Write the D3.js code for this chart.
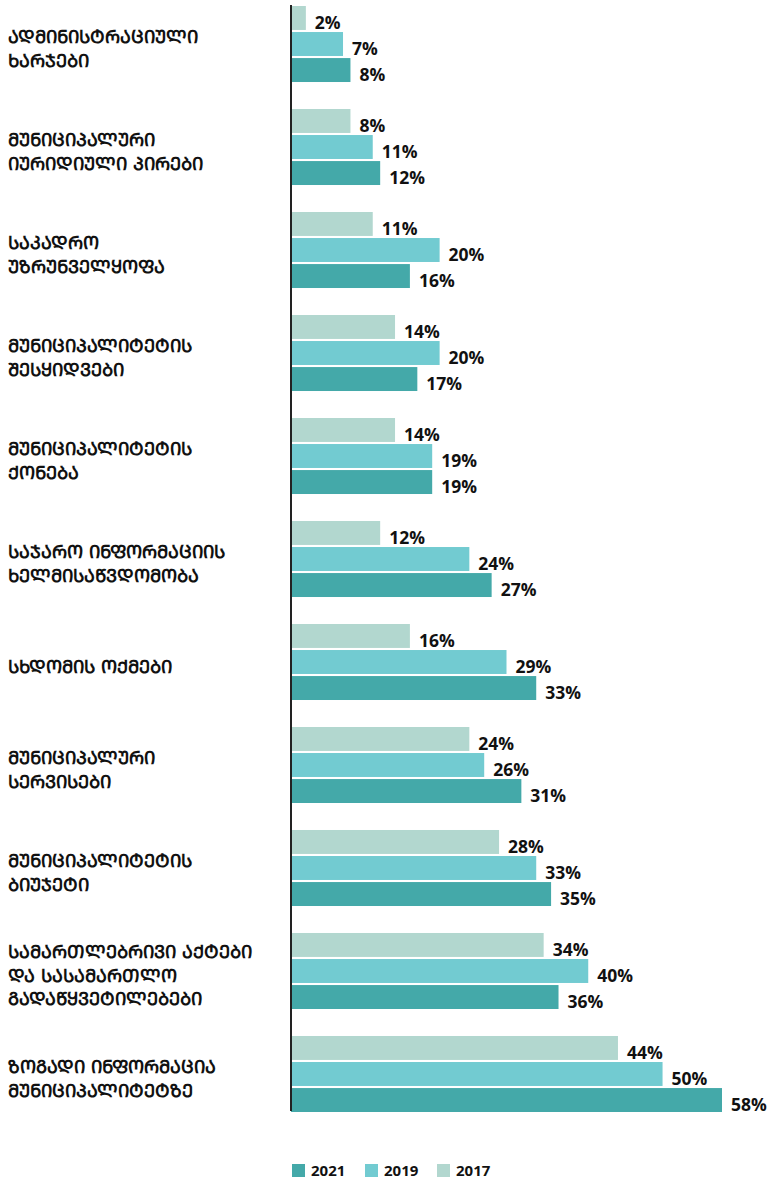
<!DOCTYPE html>
<html>
<head>
<meta charset="utf-8">
<script src="https://cdn.jsdelivr.net/npm/d3@7"></script>
<style>
  body { margin: 0; background: #fff; }
  .cat { font-family: "DejaVu Sans", sans-serif; font-weight: bold; font-size: 18px; fill: #111; }
  .val { font-family: "Open Sans", sans-serif; font-weight: 700; font-size: 17.5px; fill: #111; }
  .leg { font-family: "Open Sans", sans-serif; font-weight: 700; font-size: 15px; fill: #111; }
</style>
</head>
<body>
<div id="chart"></div>
<script>
const width = 770, height = 1179;

// category labels, one array of lines per group
const categories = [
  ["ადმინისტრაციული", "ხარჯები"],
  ["მუნიციპალური", "იურიდიული პირები"],
  ["საკადრო", "უზრუნველყოფა"],
  ["მუნიციპალიტეტის", "შესყიდვები"],
  ["მუნიციპალიტეტის", "ქონება"],
  ["საჯარო ინფორმაციის", "ხელმისაწვდომობა"],
  ["სხდომის ოქმები"],
  ["მუნიციპალური", "სერვისები"],
  ["მუნიციპალიტეტის", "ბიუჯეტი"],
  ["სამართლებრივი აქტები", "და სასამართლო", "გადაწყვეტილებები"],
  ["ზოგადი ინფორმაცია", "მუნიციპალიტეტზე"]
];
const years = ["2017", "2019", "2021"];
const v2017 = [2, 8, 11, 14, 14, 12, 16, 24, 28, 34, 44];
const v2019 = [7, 11, 20, 20, 19, 24, 29, 26, 33, 40, 50];
const v2021 = [8, 12, 16, 17, 19, 27, 33, 31, 35, 36, 58];
const legendYears = ["2021", "2019", "2017"];

const colors = { "2021": "#44a9a9", "2019": "#72cbd1", "2017": "#b2d7cf" };
const series = { "2017": v2017, "2019": v2019, "2021": v2021 };

const data = categories.map(function(c, i) {
  return { key: i, lines: c, values: years.map(function(y) { return { year: y, value: series[y][i] }; }) };
});

const svg = d3.select("#chart").append("svg")
  .attr("width", width)
  .attr("height", height);

const x0 = 291;
let x = d3.scaleLinear().domain([0, 58]).range([x0, 722]);

let y = d3.scaleBand()
  .domain(data.map(function(d) { return d.key; }))
  .range([6, 1112])
  .paddingInner(0.262)
  .paddingOuter(0);

let yInner = d3.scaleBand()
  .domain(years)
  .range([0, y.bandwidth()])
  .paddingInner(0.08)
  .paddingOuter(0);

let groups = svg.selectAll("g.grp").data(data).enter()
  .append("g")
  .attr("class", "grp")
  .attr("transform", function(d) { return `translate(0, ${y(d.key)})`; });

groups.selectAll("rect").data(function(d) { return d.values; }).enter()
  .append("rect")
  .attr("x", x(0))
  .attr("y", function(d) { return yInner(d.year); })
  .attr("width", function(d) { return x(d.value) - x(0); })
  .attr("height", yInner.bandwidth())
  .attr("fill", function(d) { return colors[d.year]; });

groups.selectAll("text.val").data(function(d) { return d.values; }).enter()
  .append("text")
  .attr("class", "val")
  .attr("x", function(d) { return x(d.value) + 9; })
  .attr("y", function(d) { return yInner(d.year) + yInner.bandwidth() / 2 + 11; })
  .text(function(d) { return d.value + "%"; });

// category labels
const lineH = 23.5;
groups.append("text")
  .attr("class", "cat")
  .attr("x", 8)
  .attr("y", function(d) { return y.bandwidth() / 2 - (d.lines.length - 1) * lineH / 2 + 11; })
  .selectAll("tspan").data(function(d) { return d.lines; }).enter()
  .append("tspan")
  .attr("x", 8)
  .attr("dy", function(d, i) { return i === 0 ? 0 : lineH; })
  .text(function(d) { return d.toUpperCase(); });

// vertical axis line
svg.append("g")
  .attr("transform", `translate(${x0}, 0)`)
  .call(d3.axisLeft(y).tickValues([]).tickSizeOuter(0))
  .call(function(g) { g.select(".domain").attr("stroke", "#222").attr("stroke-width", 2); })
  .call(function(g) { g.select(".domain").attr("d", "M0,5V1111"); });

// legend
const legX = [292, 365, 437];
let legend = svg.selectAll("g.leg").data(legendYears).enter()
  .append("g")
  .attr("transform", function(d, i) { return `translate(${legX[i]}, 1164)`; });
legend.append("rect")
  .attr("width", 13).attr("height", 13)
  .attr("fill", function(d) { return colors[d]; });
legend.append("text")
  .attr("class", "leg")
  .attr("x", 19)
  .attr("y", 12)
  .text(function(d) { return d; });
</script>
</body>
</html>
